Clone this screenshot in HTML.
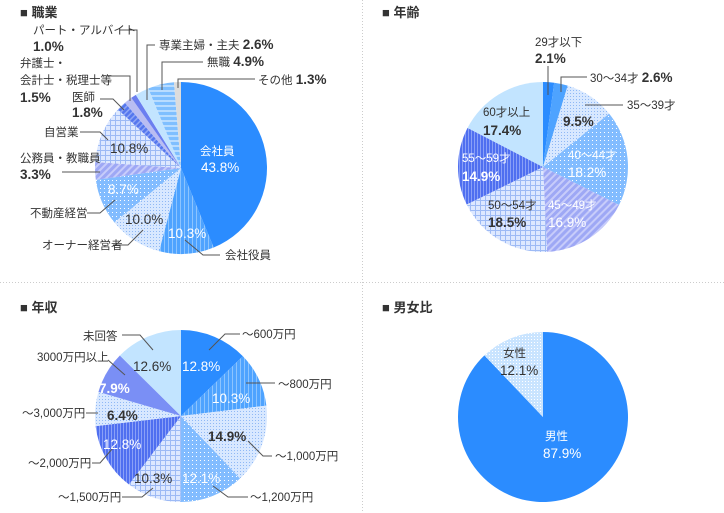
<!DOCTYPE html>
<html><head><meta charset="utf-8"><style>
html,body{margin:0;padding:0;background:#fff;}
svg{display:block;font-family:"Liberation Sans","Noto Sans CJK JP",sans-serif;}
.l{font-size:11.5px;fill:#333;}
.p{font-size:13.5px;fill:#333;font-weight:bold;}
.w{fill:#fff;}
.t{font-size:13px;font-weight:bold;fill:#333;}
.ld{fill:none;stroke:#555;stroke-width:1;}
</style></head><body>
<svg id="c" width="724" height="513" viewBox="0 0 724 513">
<defs>
<pattern id="pv" width="4" height="4" patternUnits="userSpaceOnUse"><rect width="4" height="4" fill="#4ea3ff"/><rect width="1" height="4" fill="#8cc4ff"/></pattern>
<pattern id="pc" width="3" height="3" patternUnits="userSpaceOnUse"><rect width="3" height="3" fill="#d8e8ff"/><rect width="1" height="1" fill="#8fb8f5"/></pattern>
<pattern id="pd" width="4" height="4" patternUnits="userSpaceOnUse"><rect width="4" height="4" fill="#82bcff"/><rect width="1" height="1" fill="#fff"/></pattern>
<pattern id="pg" width="5" height="5" patternUnits="userSpaceOnUse"><rect width="5" height="5" fill="#dde8ff"/><rect width="5" height="1" fill="#9dbaf5"/><rect width="1" height="5" fill="#9dbaf5"/></pattern>
<pattern id="pdg" width="5" height="5" patternUnits="userSpaceOnUse" patternTransform="rotate(45)"><rect width="5" height="5" fill="#9ea8f5"/><rect width="2" height="5" fill="#c7ccfa"/></pattern>
<pattern id="pdb" width="4" height="4" patternUnits="userSpaceOnUse" patternTransform="rotate(45)"><rect width="4" height="4" fill="#5577ee"/><rect width="1.5" height="4" fill="#8fa6f5"/></pattern>
<pattern id="ph" width="5" height="5" patternUnits="userSpaceOnUse"><rect width="5" height="5" fill="#7fbfff"/><rect width="5" height="2" fill="#b8dcff"/></pattern>
<pattern id="pvb" width="3" height="3" patternUnits="userSpaceOnUse"><rect width="3" height="3" fill="#4f6ff0"/><rect width="1" height="3" fill="#8aa0f7"/></pattern>
<pattern id="pf" width="3" height="3" patternUnits="userSpaceOnUse"><rect width="3" height="3" fill="#c9e4ff"/><rect width="1" height="1" fill="#fff"/></pattern>
</defs>
<line x1="362.5" y1="0" x2="362.5" y2="513" stroke="#ccc" stroke-dasharray="1,2"/>
<line x1="0" y1="282.5" x2="724" y2="282.5" stroke="#ccc" stroke-dasharray="1,2"/>
<g>
<text class="t" x="20" y="17">■ 職業</text>
<text class="t" x="382" y="17">■ 年齢</text>
<text class="t" x="20" y="312">■ 年収</text>
<text class="t" x="382" y="312">■ 男女比</text>
</g>
<g id="pies"></g>
<g>
<polyline class="ld" points="120,30 137,30 137,92"/>
<polyline class="ld" points="155,45 147,45 147,100"/>
<polyline class="ld" points="203,62 162,62 162,90"/>
<polyline class="ld" points="255,79 178,79 178,88"/>
<polyline class="ld" points="107,76 130,76 130,101"/>
<polyline class="ld" points="100,99 113,99 124,110"/>
<polyline class="ld" points="80,132 100,132 108,140"/>
<polyline class="ld" points="62,172 100,172"/>
<polyline class="ld" points="87,213 100,213 115,200"/>
<polyline class="ld" points="113,245 128,245 143,230"/>
<polyline class="ld" points="185,240 203,255 220,255"/>
<polyline class="ld" points="548,66 548,95"/>
<polyline class="ld" points="587,77 561,77 561,92"/>
<polyline class="ld" points="623,105 585,105"/>
<polyline class="ld" points="122,335 140,335 153,350"/>
<polyline class="ld" points="240,334 225,334 209,350"/>
<polyline class="ld" points="108,360 125,375"/>
<polyline class="ld" points="275,383 246,383"/>
<polyline class="ld" points="86,413 98,413"/>
<polyline class="ld" points="92,463 100,463 113,448"/>
<polyline class="ld" points="272,456 263,456 248,441"/>
<polyline class="ld" points="122,497 142,497 153,488"/>
<polyline class="ld" points="248,497 228,497 213,486"/>
</g>
<g>
<text class="l" x="33" y="34">パート・アルバイト</text><text class="p" x="33" y="51">1.0%</text>
<text class="l" x="159" y="49">専業主婦・主夫 <tspan class="p">2.6%</tspan></text>
<text class="l" x="207" y="66">無職 <tspan class="p">4.9%</tspan></text>
<text class="l" x="258" y="84">その他 <tspan class="p">1.3%</tspan></text>
<text class="l" x="20" y="67">弁護士・</text><text class="l" x="20" y="84">会計士・税理士等</text><text class="p" x="20" y="102">1.5%</text>
<text class="l" x="72" y="101">医師</text><text class="p" x="72" y="117">1.8%</text>
<text class="l" x="44" y="136">自営業</text>
<text class="p" x="110" y="153" style="font-weight:normal">10.8%</text>
<text class="l" x="20" y="162">公務員・教職員</text><text class="p" x="20" y="179">3.3%</text>
<text class="p w" x="108" y="194" style="font-weight:normal">8.7%</text>
<text class="l" x="30" y="217">不動産経営</text>
<text class="p" x="125" y="224" style="font-weight:normal">10.0%</text>
<text class="l" x="42" y="249">オーナー経営者</text>
<text class="p w" x="168" y="238" style="font-weight:normal">10.3%</text>
<text class="l" x="225" y="259">会社役員</text>
<text class="l w" x="200" y="155">会社員</text><text class="p w" x="201" y="172" style="font-weight:normal">43.8%</text>
</g>
<g>
<text class="l" x="535" y="46">29才以下</text><text class="p" x="535" y="63">2.1%</text>
<text class="l" x="590" y="82">30〜34才 <tspan class="p">2.6%</tspan></text>
<text class="l" x="627" y="109">35〜39才</text>
<text class="p" x="563" y="126">9.5%</text>
<text class="l w" x="568" y="159">40〜44才</text><text class="p w" x="568" y="177" style="font-weight:normal">18.2%</text>
<text class="l w" x="548" y="209">45〜49才</text><text class="p w" x="548" y="227" style="font-weight:normal">16.9%</text>
<text class="l" x="488" y="209">50〜54才</text><text class="p" x="488" y="227">18.5%</text>
<text class="l w" x="462" y="162">55〜59才</text><text class="p w" x="462" y="181">14.9%</text>
<text class="l" x="483" y="116">60才以上</text><text class="p" x="483" y="135">17.4%</text>
</g>
<g>
<text class="l" x="83" y="340">未回答</text>
<text class="p" x="133" y="371" style="font-weight:normal">12.6%</text>
<text class="p w" x="182" y="371" style="font-weight:normal">12.8%</text>
<text class="l" x="242" y="338">〜600万円</text>
<text class="l" x="37" y="361">3000万円以上</text>
<text class="p w" x="99" y="393">7.9%</text>
<text class="l" x="278" y="388">〜800万円</text>
<text class="p w" x="212" y="403" style="font-weight:normal">10.3%</text>
<text class="l" x="22" y="417">〜3,000万円</text>
<text class="p" x="107" y="420">6.4%</text>
<text class="p" x="208" y="441">14.9%</text>
<text class="p w" x="103" y="449" style="font-weight:normal">12.8%</text>
<text class="l" x="28" y="467">〜2,000万円</text>
<text class="l" x="275" y="460">〜1,000万円</text>
<text class="p" x="134" y="483" style="font-weight:normal">10.3%</text>
<text class="p w" x="182" y="483" style="font-weight:normal">12.1%</text>
<text class="l" x="58" y="501">〜1,500万円</text>
<text class="l" x="250" y="501">〜1,200万円</text>
</g>
<g>
<text class="l" x="503" y="357">女性</text><text class="p" x="500" y="375" style="font-weight:normal">12.1%</text>
<text class="l w" x="545" y="440">男性</text><text class="p w" x="543" y="458" style="font-weight:normal">87.9%</text>
</g>
</svg>
<script>
const jobCategories = ["会社員","会社役員","オーナー経営者","不動産経営","公務員・教職員","自営業","医師","弁護士・会計士・税理士等","パート・アルバイト","専業主婦・主夫","無職","その他"];
const jobValues = [43.8,10.3,10.0,8.7,3.3,10.8,1.8,1.5,1.0,2.6,4.9,1.3];
const ageCategories = ["29才以下","30〜34才","35〜39才","40〜44才","45〜49才","50〜54才","55〜59才","60才以上"];
const ageValues = [2.1,2.6,9.5,18.2,16.9,18.5,14.9,17.4];
const incomeCategories = ["〜600万円","〜800万円","〜1,000万円","〜1,200万円","〜1,500万円","〜2,000万円","〜3,000万円","3000万円以上","未回答"];
const incomeValues = [12.8,10.3,14.9,12.1,10.3,12.8,6.4,7.9,12.6];
const genderCategories = ["男性","女性"];
const genderValues = [87.9,12.1];

const jobFills = ["#2b8cff","url(#pv)","url(#pc)","url(#pd)","url(#pdg)","url(#pg)","url(#pdb)","#b9bdf2","#6b7ef0","#c2e4ff","url(#ph)","#dcdcdc"];
const ageFills = ["#2b8cff","#4ea3ff","url(#pc)","url(#pd)","url(#pdg)","url(#pg)","url(#pvb)","#c2e4ff"];
const incomeFills = ["#2b8cff","url(#pv)","url(#pc)","url(#pd)","url(#pg)","url(#pvb)","url(#pc)","#7a8ff5","#c2e4ff"];
const genderFills = ["#2b8cff","url(#pf)"];

const NS = "http://www.w3.org/2000/svg";
const root = document.getElementById("pies");
function drawPie(name, cats, vals, fills, cx, cy, r) {
  const g = document.createElementNS(NS, "g");
  
  
  const total = vals.reduce((a, b) => a + b, 0);
  let acc = 0;
  vals.forEach((v, i) => {
    const a0 = acc / total * 2 * Math.PI - Math.PI / 2;
    acc += v;
    const a1 = acc / total * 2 * Math.PI - Math.PI / 2;
    const x0 = cx + r * Math.cos(a0), y0 = cy + r * Math.sin(a0);
    const x1 = cx + r * Math.cos(a1), y1 = cy + r * Math.sin(a1);
    const large = (a1 - a0) > Math.PI ? 1 : 0;
    const p = document.createElementNS(NS, "path");
    p.setAttribute("d", `M${cx},${cy}L${x0},${y0}A${r},${r} 0 ${large} 1 ${x1},${y1}Z`);
    p.setAttribute("fill", fills[i % fills.length]);
    
    
    g.appendChild(p);
  });
  root.appendChild(g);
}
drawPie("occupation-pie", jobCategories, jobValues, jobFills, 181, 168, 86);
drawPie("age-pie", ageCategories, ageValues, ageFills, 543, 167, 85);
drawPie("income-pie", incomeCategories, incomeValues, incomeFills, 181, 416, 86);
drawPie("gender-pie", genderCategories, genderValues, genderFills, 543, 417, 85);
</script>
</body></html>
